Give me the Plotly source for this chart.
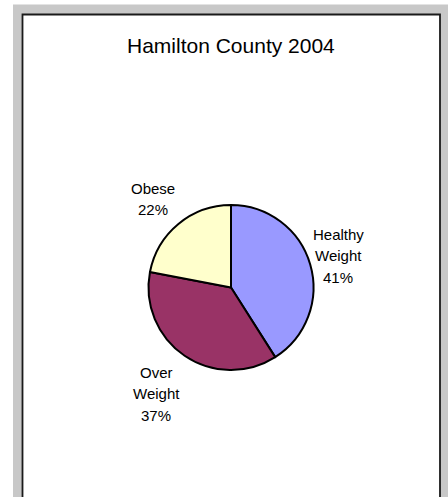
import plotly.graph_objects as go

W, H = 448, 497

labels = ["Healthy Weight", "Over Weight", "Obese"]
values = [41, 37, 22]
colors = ["#9999FF", "#993366", "#FFFFCC"]
title_text = "Hamilton County 2004"

# label placement (pixel centre x, first-line baseline y)
label_pos = {"Healthy Weight": (338, 239), "Over Weight": (156, 377), "Obese": (153, 193)}
LINE_GAP = 21.7
FONT = "Liberation Sans, Arial, sans-serif"


def fx(px):
    return px / W


def fy(py):
    return 1 - py / H


cx, cy, r = 231, 287.5, 82.5

fig = go.Figure(go.Pie(
    labels=labels, values=values, sort=False, direction="clockwise", rotation=0,
    marker=dict(colors=colors, line=dict(color="#000000", width=2)),
    textinfo="none", hoverinfo="label+percent", showlegend=False,
    domain=dict(x=[fx(cx - r), fx(cx + r)], y=[fy(cy + r), fy(cy - r)]),
))

total = sum(values)
annotations = []
for lab, val in zip(labels, values):
    lines = lab.split(" ") + [f"{round(100 * val / total)}%"]
    x0, b0 = label_pos[lab]
    for i, t in enumerate(lines):
        base = b0 + i * LINE_GAP
        annotations.append(dict(
            x=fx(x0), y=fy(base - 5), xref="paper", yref="paper",
            text=t, showarrow=False, xanchor="center", yanchor="middle",
            font=dict(family=FONT, size=15, color="#000000"),
        ))

annotations.append(dict(
    x=fx(230.5), y=fy(45), xref="paper", yref="paper", text=title_text,
    showarrow=False, xanchor="center", yanchor="middle",
    font=dict(family=FONT, size=21, color="#000000"),
))

shapes = [
    dict(type="rect", xref="paper", yref="paper", x0=fx(13), x1=fx(470), y0=fy(4.5), y1=fy(520),
         fillcolor="#C8C8C8", line=dict(width=0), layer="below"),
    dict(type="rect", xref="paper", yref="paper", x0=fx(22.5), x1=fx(440), y0=fy(14.5), y1=fy(530),
         fillcolor="#FFFFFF", line=dict(color="#1a1a1a", width=1.8), layer="below"),
]

fig.update_layout(
    width=W, height=H, margin=dict(l=0, r=0, t=0, b=0),
    paper_bgcolor="#FFFFFF", plot_bgcolor="#FFFFFF",
    annotations=annotations, shapes=shapes,
    font=dict(family=FONT),
)

fig.write_html("out.html", config={"displayModeBar": False})
